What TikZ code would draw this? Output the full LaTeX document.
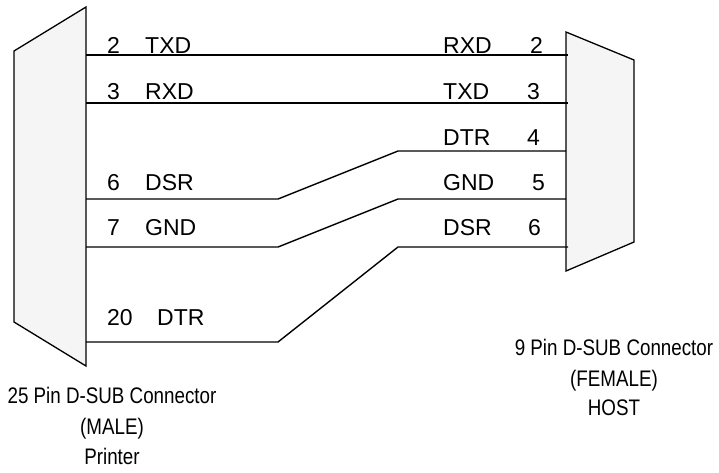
\documentclass[tikz,border=0pt]{standalone}
\usepackage{fontspec}
\setmainfont{Liberation Sans}
\begin{document}
\begin{tikzpicture}[x=1pt,y=-1pt,
  conn/.style={draw=black,line width=1.3pt,fill=black!4,line join=miter},
  wire/.style={draw=black,line width=1.4pt},
  pin/.style={anchor=base west,inner sep=0pt,font=\fontsize{23}{27}\selectfont},
  captext/.style={anchor=base,inner sep=0pt,font=\fontsize{22.5}{26}\selectfont}]
\useasboundingbox (0,0) rectangle (719,472);
% connectors
\draw[conn] (86,7) -- (14,51) -- (14,322) -- (86,366) -- cycle;
\draw[conn] (566,32) -- (634,60) -- (634,242) -- (566,271) -- cycle;
% wire end points
\coordinate (L2) at (86,55);   \coordinate (R2) at (568,55);
\coordinate (L3) at (86,103);  \coordinate (R3) at (568,103);
\coordinate (L6) at (86,199);  \coordinate (B6) at (278,199);
\coordinate (L7) at (86,247);  \coordinate (B7) at (278,247);
\coordinate (L20) at (86,342); \coordinate (B20) at (278,342);
\coordinate (C4) at (398,151); \coordinate (R4) at (566,151);
\coordinate (C5) at (398,199); \coordinate (R5) at (566,199);
\coordinate (C6) at (398,247); \coordinate (R6) at (568,247);
\draw[wire] (L2) -- (R2);
\draw[wire] (L3) -- (R3);
\draw[wire] (L6) -- (B6) -- (C4) -- (R4);
\draw[wire] (L7) -- (B7) -- (C5) -- (R5);
\draw[wire] (L20) -- (B20) -- (C6) -- (R6);
% left pin labels
\node[pin] (ln2) at (107,53) {2};   \node[pin] (lt2) at (145,53) {TXD};
\node[pin] (ln3) at (107,99) {3};   \node[pin] (lt3) at (145,99) {RXD};
\node[pin] (ln6) at (107,190) {6};  \node[pin] (lt6) at (145,190) {DSR};
\node[pin] (ln7) at (107,235) {7};  \node[pin] (lt7) at (145,235) {GND};
\node[pin] (ln20) at (107,325) {20};\node[pin] (lt20) at (157,325) {DTR};
% right pin labels
\node[pin] (rt2) at (443,53) {RXD};  \node[pin] (rn2) at (530,53) {2};
\node[pin] (rt3) at (443,99) {TXD};  \node[pin] (rn3) at (527,99) {3};
\node[pin] (rt4) at (443,145) {DTR}; \node[pin] (rn4) at (527,145) {4};
\node[pin] (rt5) at (443,190) {GND}; \node[pin] (rn5) at (532,190) {5};
\node[pin] (rt6) at (443,235) {DSR}; \node[pin] (rn6) at (528,235) {6};
% captions
\node[captext] (lc1) at (112,403) {\scalebox{0.835}[1]{25 Pin D-SUB Connector}};
\node[captext] (lc2) at (112,434) {\scalebox{0.835}[1]{(MALE)}};
\node[captext] (lc3) at (112,464) {\scalebox{0.835}[1]{Printer}};
\node[captext] (rc1) at (614,355) {\scalebox{0.835}[1]{9 Pin D-SUB Connector}};
\node[captext] (rc2) at (614,386) {\scalebox{0.835}[1]{(FEMALE)}};
\node[captext] (rc3) at (614,415) {\scalebox{0.835}[1]{HOST}};
\end{tikzpicture}
\end{document}
